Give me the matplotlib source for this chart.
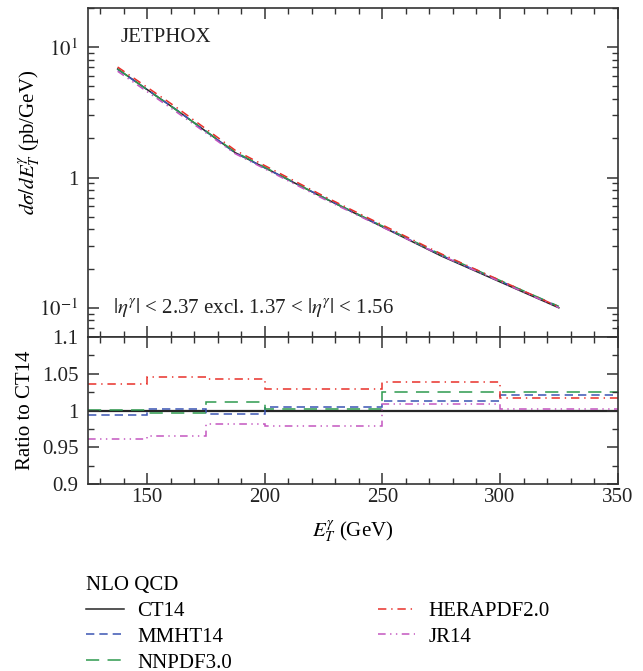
import numpy as np
import matplotlib
matplotlib.use('Agg')
import matplotlib.pyplot as plt
from matplotlib.ticker import MultipleLocator, FixedLocator, FixedFormatter, LogLocator, NullFormatter

# --- Данные ---
edges = [125, 150, 175, 200, 250, 300, 350]
centers = [137.5, 162.5, 187.5, 225, 275, 325]
ct14 = [6.8, 3.3, 1.55, 0.70, 0.25, 0.10]   # pb/GeV

ratio_mmht = [0.9946, 1.0027, 0.9952, 1.0045, 1.0131, 1.021]
ratio_nnpdf = [1.0004, 0.9960, 1.0122, 1.0025, 1.0253, 1.0250]
ratio_hera = [1.0361, 1.0460, 1.0429, 1.0296, 1.0380, 1.0170]
ratio_jr14 = [0.9612, 0.9648, 0.9815, 0.9792, 1.0095, 1.0027]

names = ['CT14', 'MMHT14', 'NNPDF3.0', 'HERAPDF2.0', 'JR14']
colors = ['#262626', '#3b55b3', '#2e9a4e', '#e8302a', '#c356c0']
dashes = [None, (6, 3.6), (9.5, 6), (6, 3.5, 1, 3.5), (5.5, 3.2, 1, 3.2, 1, 3.2)]

FS = 15

plt.rcParams['font.family'] = ['Liberation Serif', 'DejaVu Serif']
plt.rcParams['mathtext.fontset'] = 'stix'
plt.rcParams['font.size'] = FS
plt.rcParams['lines.scale_dashes'] = False
plt.rcParams['axes.linewidth'] = 1.2
plt.rcParams['axes.edgecolor'] = '#333333'

ratios = [np.ones(len(ct14)), np.array(ratio_mmht), np.array(ratio_nnpdf),
          np.array(ratio_hera), np.array(ratio_jr14)]

fig = plt.figure(figsize=(6.43, 6.71), dpi=100)
ax1 = fig.add_axes([0.1372, 0.4982, 0.8234, 0.4899])
ax2 = fig.add_axes([0.1372, 0.2782, 0.8234, 0.22])

# --- Верхняя панель: сечение ---
handles = []
for name, col, d, r in zip(names, colors, dashes, ratios):
    kw = dict(color=col, lw=1.1)
    if d is not None:
        kw['dashes'] = d
    ln, = ax1.plot(centers, np.array(ct14) * r, label=name, **kw)
    handles.append(ln)

ax1.set_yscale('log')
ax1.set_xlim(125, 350)
ax1.set_ylim(0.06, 20)
ax1.yaxis.set_major_locator(FixedLocator([0.1, 1, 10]))
ax1.yaxis.set_major_formatter(FixedFormatter(['$10^{-1}$', '1', '$10^{1}$']))
ax1.yaxis.set_minor_locator(LogLocator(base=10, subs=np.arange(2, 10)))
ax1.yaxis.set_minor_formatter(NullFormatter())
ax1.xaxis.set_major_locator(MultipleLocator(50))
ax1.xaxis.set_minor_locator(MultipleLocator(10))
ax1.tick_params(labelbottom=False)
ax1.set_ylabel(r'$d\sigma/dE_T^{\gamma}$ (pb/GeV)')
ax1.yaxis.set_label_coords(-0.086, 0.59)
ax1.text(0.062, 0.91, 'JETPHOX', transform=ax1.transAxes, va='center', ha='left', color='#222222')
ax1.text(0.046, 0.09, r'$|\eta^{\gamma}|$ < 2.37 excl. 1.37 < $|\eta^{\gamma}|$ < 1.56',
         transform=ax1.transAxes, va='center', ha='left', color='#222222')

# --- Нижняя панель: отношение к CT14 ---
for name, col, d, r in zip(names, colors, dashes, ratios):
    kw = dict(color=col, lw=1.1 if d is not None else 1.6)
    if d is not None:
        kw['linestyle'] = (0, d)
    ax2.stairs(r, edges, baseline=None, **kw)

ax2.set_xlim(125, 350)
ax2.set_ylim(0.9, 1.1)
ax2.yaxis.set_major_locator(FixedLocator([0.9, 0.95, 1.0, 1.05, 1.1]))
ax2.yaxis.set_major_formatter(FixedFormatter(['0.9', '0.95', '1', '1.05', '1.1']))
ax2.yaxis.set_minor_locator(MultipleLocator(0.025))
ax2.xaxis.set_major_locator(MultipleLocator(50))
ax2.xaxis.set_minor_locator(MultipleLocator(10))
ax2.set_ylabel('Ratio to CT14')
ax2.yaxis.set_label_coords(-0.101, 0.5)
ax2.set_xlabel(r'$E_T^{\gamma}$ (GeV)', labelpad=8)

for ax in (ax1, ax2):
    ax.tick_params(which='both', direction='in', top=True, right=True, colors='#333333',
                   labelcolor='#222222')
    ax.tick_params(which='major', length=8, width=1.1)
    ax.tick_params(which='minor', length=4.3, width=1.0)
    ax.tick_params(axis='y', which='major', pad=7)
    ax.tick_params(axis='x', which='major', pad=3)

# --- Легенда ---
fig.legend(handles=handles, labels=names, title='NLO QCD', loc='upper left',
           bbox_to_anchor=(86 / 643, 1 - 576 / 671), ncol=2, frameon=False,
           fontsize=FS, title_fontsize=FS, alignment='left', handlelength=1.8,
           handletextpad=0.65, columnspacing=7.0, labelspacing=0.3,
           borderpad=0, borderaxespad=0)

fig.savefig('out.png', dpi=100)
